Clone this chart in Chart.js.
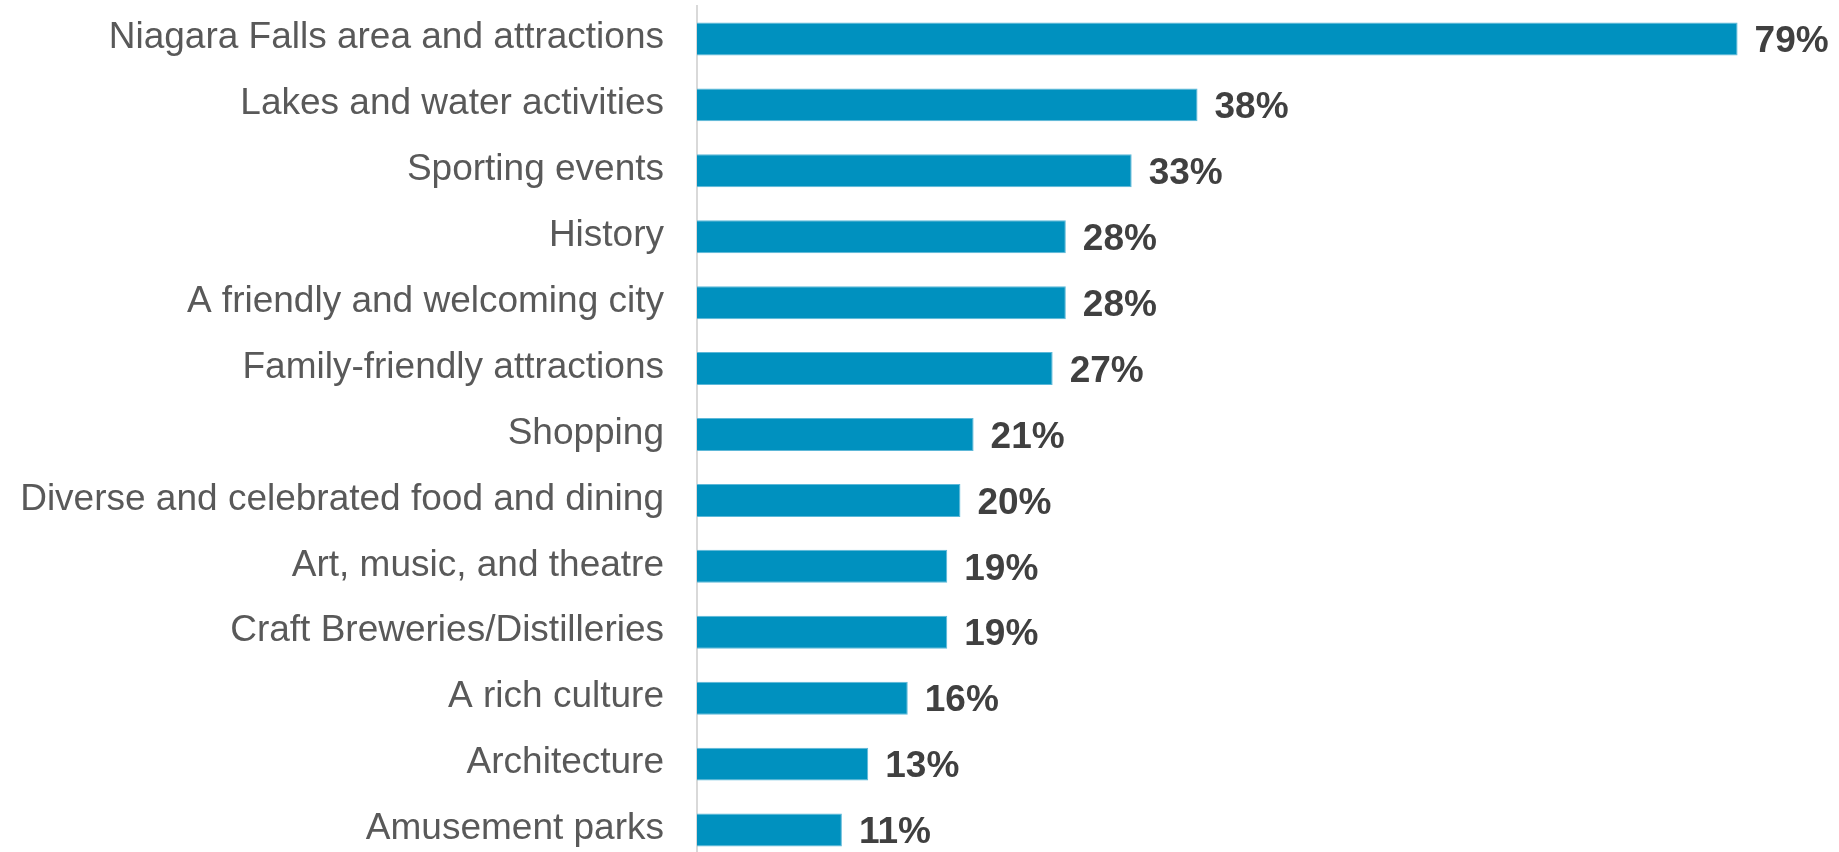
<!DOCTYPE html>
<html>
<head>
<meta charset="utf-8">
<title>Attractions</title>
<script src="https://cdn.jsdelivr.net/npm/chart.js@4/dist/chart.umd.min.js"></script>
<style>
  html, body { margin: 0; padding: 0; background: #fff; overflow: hidden; }
  #chart { display: block; }
</style>
</head>
<body>
<canvas id="chart" width="1839" height="863"></canvas>
<script>
'use strict';

const categories = [
  'Niagara Falls area and attractions',
  'Lakes and water activities',
  'Sporting events',
  'History',
  'A friendly and welcoming city',
  'Family-friendly attractions',
  'Shopping',
  'Diverse and celebrated food and dining',
  'Art, music, and theatre',
  'Craft Breweries/Distilleries',
  'A rich culture',
  'Architecture',
  'Amusement parks',
];

const shares = [79, 38, 33, 28, 28, 27, 21, 20, 19, 19, 16, 13, 11];

const FONT = '"Liberation Sans", Arial, sans-serif';
const AXIS_X = 697;

// Bold percentage to the right of each bar
const valueLabels = {
  id: 'valueLabels',
  afterDatasetsDraw(chart) {
    const { ctx } = chart;
    const meta = chart.getDatasetMeta(0);
    ctx.save();
    ctx.font = `bold 37px ${FONT}`;
    ctx.fillStyle = '#404040';
    ctx.textAlign = 'left';
    ctx.textBaseline = 'middle';
    meta.data.forEach((bar, i) => {
      ctx.fillText(`${shares[i]}%`, bar.x + 17, bar.y + 3);
    });
    ctx.restore();
  },
};

new Chart(document.getElementById('chart'), {
  type: 'bar',
  data: {
    labels: categories,
    datasets: [{
      data: shares,
      backgroundColor: '#0091bf',
      borderColor: '#5db8d8',
      borderWidth: 1,
      borderSkipped: 'left',
      barPercentage: 0.5,
      categoryPercentage: 1,
    }],
  },
  options: {
    indexAxis: 'y',
    responsive: false,
    animation: false,
    layout: { padding: { left: 0, top: 6, right: 0, bottom: 0 } },
    plugins: {
      legend: { display: false },
      tooltip: { enabled: false },
    },
    scales: {
      x: {
        display: false,
        min: 0,
        max: 86.7,
      },
      y: {
        grid: { display: false, drawTicks: false },
        border: { display: true, color: '#d9d9d9', width: 2 },
        ticks: {
          color: '#595959',
          padding: 33,
          labelOffset: -1,
          font: { family: FONT, size: 37 },
        },
        // fixed label column; no extra room above/below the bars
        afterFit(scale) {
          scale.width = AXIS_X;
          scale.paddingTop = 0;
          scale.paddingBottom = 0;
        },
      },
    },
  },
  plugins: [valueLabels],
});
</script>
</body>
</html>
